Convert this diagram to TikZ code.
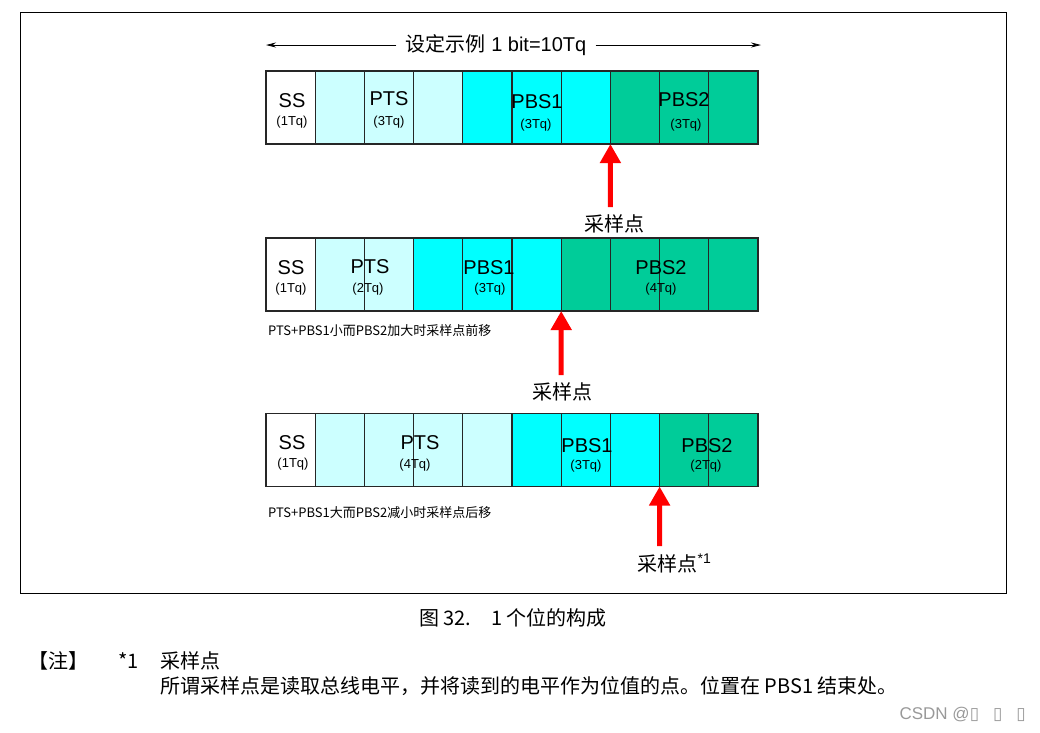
\documentclass[tikz,border=0pt]{standalone}
\usepackage{fontspec}
\setmainfont{Liberation Sans}
\newfontfamily\cjk{Noto Sans CJK SC}
\newfontfamily\dejavu{DejaVu Sans}
\usetikzlibrary{arrows.meta,positioning}
\definecolor{ssfill}{HTML}{FFFFFF}
\definecolor{ptsfill}{HTML}{CCFFFF}
\definecolor{pbsafill}{HTML}{00FFFF}
\definecolor{pbsbfill}{HTML}{00CC99}
\definecolor{sampred}{HTML}{FF0000}

\tikzset{
  cell/.style={draw=black!85, line width=1.2pt, minimum width=49.2pt, minimum height=73pt, inner sep=0pt, outer sep=0pt},
  big/.style={font=\fontsize{20}{24}\selectfont, inner sep=0pt},
  tq/.style={font=\fontsize{13}{15}\selectfont, inner sep=0pt},
  rowcap/.style={font=\cjk\fontsize{13}{15}\selectfont, anchor=west, inner sep=0pt},
  notetext/.style={font=\cjk\fontsize{20}{24}\selectfont, anchor=west, inner sep=0pt},
  samp/.style={-{Triangle[width=20pt,length=19pt]}, line width=5pt, color=sampred},
  samplbl/.style={font=\cjk\fontsize{20}{24}\selectfont, inner sep=0pt},
  dimarrow/.style={-{Stealth[length=10pt,width=5pt]}, line width=0.8pt},
}

\begin{document}
\begin{tikzpicture}[x=1pt, y=-1pt]
\useasboundingbox (0,0) rectangle (1040,732);
\draw[line width=0.8pt] (20,12) rectangle (1006,593);

% title
\node[big, inner sep=9pt] (title) at (496,45) {{\cjk 设定示例} 1 bit=10Tq};
\coordinate (tl) at (266,45);
\coordinate (tr) at (761,45);
\path[dimarrow] (title) edge (tl) edge (tr);

% rows of Tq
\foreach \c [count=\i] in {ssfill,ptsfill,ptsfill,ptsfill,pbsafill,pbsafill,pbsafill,pbsbfill,pbsbfill,pbsbfill}
  \node[cell, fill=\c] (a\i) at ({266+(\i-0.5)*49.2}, 107.5) {};
\foreach \c [count=\i] in {ssfill,ptsfill,ptsfill,pbsafill,pbsafill,pbsafill,pbsbfill,pbsbfill,pbsbfill,pbsbfill}
  \node[cell, fill=\c] (b\i) at ({266+(\i-0.5)*49.2}, 274.5) {};
\foreach \c [count=\i] in {ssfill,ptsfill,ptsfill,ptsfill,ptsfill,pbsafill,pbsafill,pbsafill,pbsbfill,pbsbfill}
  \node[cell, fill=\c] (c\i) at ({266+(\i-0.5)*49.2}, 450) {};

\node[big] (ssa) at (292,101) {SS};     \node[tq] (ssat) at (292,122) {(1Tq)};
\node[big] (ptsa) at (389,99) {PTS};    \node[tq] (ptsat) at (389,122) {(3Tq)};
\node[big] (pbsaa) at (537,102) {PBS1}; \node[tq] (pbsaat) at (536,125) {(3Tq)};
\node[big] (pbsba) at (684,100) {PBS2}; \node[tq] (pbsbat) at (686,125) {(3Tq)};

\node[big] (ssb) at (291,268) {SS};     \node[tq] (ssbt) at (291,289) {(1Tq)};
\node[big] (ptsb) at (370,267) {PTS};   \node[tq] (ptsbt) at (368,289) {(2Tq)};
\node[big] (pbsab) at (489,268) {PBS1}; \node[tq] (pbsabt) at (490,289) {(3Tq)};
\node[big] (pbsbb) at (661,268) {PBS2}; \node[tq] (pbsbbt) at (661,289) {(4Tq)};
\node[rowcap] (capb) at (268,331) {PTS+PBS1小而PBS2加大时采样点前移};

\node[big] (ssc) at (292,443) {SS};     \node[tq] (ssct) at (293,464) {(1Tq)};
\node[big] (ptsc) at (420,443) {PTS};   \node[tq] (ptsct) at (415,465) {(4Tq)};
\node[big] (pbsac) at (587,446) {PBS1}; \node[tq] (pbsact) at (586,466) {(3Tq)};
\node[big] (pbsbc) at (707,446) {PBS2}; \node[tq] (pbsbct) at (706,466) {(2Tq)};
\node[rowcap] (capc) at (268,513) {PTS+PBS1大而PBS2减小时采样点后移};

% sample points
\coordinate (p1) at (610.4,207);
\coordinate (p2) at (561.2,375);
\coordinate (p3) at (659.6,546);
\draw[samp] (p1) -- (a7.south east);
\draw[samp] (p2) -- (b6.south east);
\draw[samp] (p3) -- (c8.south east);
\node[samplbl, below=7pt of p1, xshift=4pt] (sa) {采样点};
\node[samplbl, below=7pt of p2, xshift=1pt] (sb) {采样点};
\node[samplbl, below=8pt of p3, xshift=15pt] (sc) {采样点\textsuperscript{\fontspec{Liberation Sans}*1}};

% caption and note
\node[font=\cjk\fontsize{20}{24}\selectfont] (fig) at (513,618) {图 32.\hspace{1em}1 个位的构成};
\node[notetext] (zhu) at (28,661) {【注】};
\node[notetext] (star) at (118,661) {*1};
\node[notetext] (nta) at (160,661) {采样点};
\node[notetext] (ntb) at (160,686) {所谓采样点是读取总线电平，并将读到的电平作为位值的点。位置在 PBS1 结束处。};
\node[font=\fontsize{17}{20}\selectfont, text=black!40, anchor=east, inner sep=0pt] (wm) at (1026,714) {CSDN @{\dejavu ▯\hspace{14pt}▯\hspace{14pt}▯}};
\end{tikzpicture}
\end{document}
